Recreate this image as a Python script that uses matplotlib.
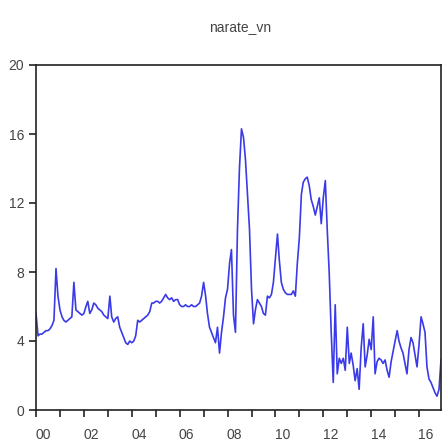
import numpy as np
import pandas as pd
import matplotlib
matplotlib.use("Agg")
import matplotlib.pyplot as plt
import matplotlib.dates as mdates
import matplotlib.transforms as mtransforms

plt.rcParams['font.family'] = ['Liberation Sans Narrow', 'Liberation Sans', 'DejaVu Sans']

# monthly values, 2000M01 - 2016M12
v2000 = [5.6, 4.3, 4.4, 4.4, 4.5, 4.6, 4.6, 4.7, 4.9, 5.2, 8.2, 6.6]
v2001 = [5.8, 5.4, 5.2, 5.1, 5.2, 5.3, 5.4, 7.4, 5.8, 5.7, 5.6, 5.5]
v2002 = [5.6, 6.0, 6.3, 5.6, 5.8, 6.2, 6.1, 5.9, 5.8, 5.7, 5.5, 5.4]
v2003 = [5.3, 6.6, 5.4, 5.1, 5.3, 5.4, 4.8, 4.5, 4.2, 3.9, 3.8, 4.0]
v2004 = [3.9, 4.0, 4.3, 5.2, 5.1, 5.2, 5.3, 5.4, 5.5, 5.7, 6.2, 6.2]
v2005 = [6.3, 6.3, 6.2, 6.3, 6.5, 6.7, 6.5, 6.4, 6.5, 6.3, 6.4, 6.4]
v2006 = [6.1, 6.0, 6.0, 6.1, 6.0, 6.0, 6.1, 6.0, 6.0, 6.1, 6.2, 6.6]
v2007 = [7.4, 6.6, 5.6, 4.8, 4.5, 4.2, 3.9, 4.8, 3.3, 4.5, 5.4, 6.5]
v2008 = [7.0, 8.5, 9.3, 5.5, 4.5, 10.5, 14.0, 16.3, 15.8, 14.5, 12.5, 10.5]
v2009 = [7.0, 5.0, 5.8, 6.4, 6.2, 6.0, 5.6, 5.5, 6.6, 6.5, 6.7, 7.4]
v2010 = [8.8, 10.2, 8.7, 7.4, 7.0, 6.8, 6.7, 6.7, 6.7, 6.9, 6.6, 8.5]
v2011 = [10.0, 12.5, 13.2, 13.4, 13.5, 13.0, 12.2, 11.8, 11.3, 11.8, 12.3, 10.8]
v2012 = [12.3, 13.3, 10.5, 7.9, 4.5, 1.6, 6.1, 2.1, 3.0, 2.7, 3.0, 2.3]
v2013 = [4.8, 2.7, 3.3, 2.6, 1.7, 2.4, 1.2, 3.6, 5.0, 2.5, 3.2, 4.1]
v2014 = [3.5, 5.4, 2.1, 2.8, 3.0, 2.9, 2.7, 2.9, 2.3, 1.9, 2.8, 3.4]
v2015 = [4.0, 4.6, 4.0, 3.6, 3.3, 2.7, 2.1, 3.5, 4.2, 3.9, 3.2, 2.5]
v2016 = [3.8, 5.4, 5.0, 4.5, 2.5, 1.8, 1.6, 1.3, 1.0, 0.8, 1.2, 2.9]

values = (v2000 + v2001 + v2002 + v2003 + v2004 + v2005 + v2006 + v2007 + v2008
          + v2009 + v2010 + v2011 + v2012 + v2013 + v2014 + v2015 + v2016)
dates = pd.date_range("2000-01-01", periods=len(values), freq="MS")
yticks = [0, 4, 8, 12, 16, 20]

fig = plt.figure(figsize=(4.43, 4.48), dpi=100)
ax = fig.add_axes([36 / 443, 1 - 410 / 448, 405 / 443, 345 / 448])
ax.plot(dates, values, color="#3a3ae8", linewidth=1.2)

ax.set_xlim(dates[0], dates[-1])
ax.set_ylim(0, 20)
ax.set_yticks(yticks)

ax.xaxis.set_major_locator(mdates.YearLocator(2))
ax.xaxis.set_major_formatter(mdates.DateFormatter("%y"))
ax.xaxis.set_minor_locator(mdates.YearLocator(1))

ax.tick_params(axis="both", colors="#222222", labelcolor="#444444", labelsize=10,
               direction="out", length=5, width=1.2)
ax.tick_params(axis="x", which="minor", direction="out", length=5, width=1.2, colors="#222222")
ax.tick_params(axis="x", pad=8)

offset = mtransforms.ScaledTranslation(0.07, 0, fig.dpi_scale_trans)
for lab in ax.get_xticklabels():
    lab.set_transform(lab.get_transform() + offset)

for s in ax.spines.values():
    s.set_linewidth(1.2)
    s.set_color("#222222")

fig.text(240 / 443, 1 - 28 / 448, "narate_vn", ha="center", va="center",
         fontsize=10, color="#444444")

fig.savefig("out.png", dpi=100)
